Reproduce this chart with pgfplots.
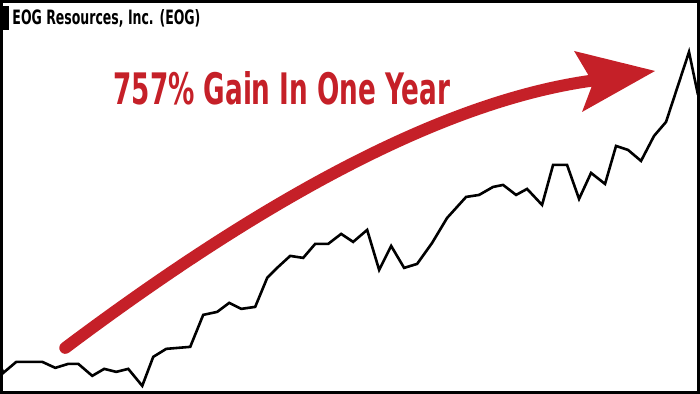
\documentclass[border=0pt]{standalone}
\usepackage{pgfplots}
\pgfplotsset{compat=1.18}
\usepackage{fontspec}
\newfontfamily\cond{DejaVu Sans Condensed}
\definecolor{arrred}{RGB}{197,32,40}
\begin{document}
\begin{tikzpicture}
\begin{axis}[
  scale only axis, width=700bp, height=394bp,
  xmin=0, xmax=700, ymin=0, ymax=394, y dir=reverse,
  axis lines=none, clip=false,
]
\addplot[black, line width=2.6bp, line join=miter, mark=none] coordinates {
(1,368) (3,373) (16,362) (42,362) (55,368) (68,364) (78,364) (92,376)
(104,369) (116,372) (128,369) (142,386) (153,357) (166,349) (190,347)
(203,315) (217,312) (229,303) (241,309) (255,307) (267,278) (278,267)
(290,256) (303,258) (315,244) (328,244) (341,234) (353,242) (367,230)
(379,270) (391,246) (404,268) (417,264) (432,243) (447,218) (466,197)
(479,195) (493,187) (503,185) (516,195) (527,189) (542,205) (553,165)
(567,165) (579,199) (591,173) (605,184) (616,146) (628,150) (641,161)
(654,136) (666,122) (689,52) (698,95)
};
% arrow
\draw[arrred, line width=12bp, line cap=round]
  (axis cs:65,348) .. controls (axis cs:277.7,188.5) and (axis cs:454.3,98.1) .. (axis cs:597,80);
\fill[arrred] (axis cs:574,51) -- (axis cs:655,71) -- (axis cs:582,112) -- (axis cs:593,83) -- cycle;
% headline
\node[anchor=north west, inner sep=0pt, text=arrred] at (axis cs:113,71)
  {\resizebox{337bp}{33bp}{\cond\bfseries 757\% Gain In One Year}};
% title
\fill[black] (axis cs:0,6) rectangle (axis cs:9,30);
\node[anchor=north west, inner sep=0pt] at (axis cs:12,9)
  {\resizebox{188bp}{15bp}{\cond\bfseries EOG Resources, Inc. (EOG)}};
% frame
\draw[black, line width=3bp] (axis cs:1.5,1.5) rectangle (axis cs:698.5,392.5);
\end{axis}
\end{tikzpicture}
\end{document}
